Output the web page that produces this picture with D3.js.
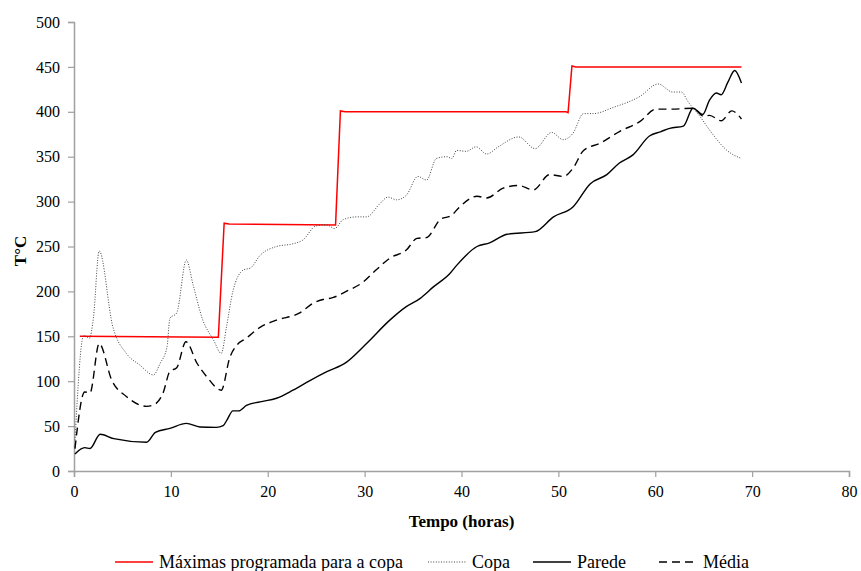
<!DOCTYPE html>
<html>
<head>
<meta charset="utf-8">
<script src="https://cdn.jsdelivr.net/npm/d3@7"></script>
<style>
  body { margin: 0; background: #fff; }
</style>
</head>
<body>
<svg id="chart" width="861" height="571"></svg>
<script>
// valores
var maxHoras = [0.6, 14.9, 15.5, 16.0, 27.0, 27.5, 28.0, 50.8, 51.0, 51.4, 51.8, 68.9];
var maxTemp = [150, 149, 276, 275, 274, 401, 400, 400, 399, 451, 450, 450];

var copaHoras = [0.1, 1.0, 1.6, 2.0, 2.6, 4.0, 5.4, 6.8, 8.2, 8.9, 9.6, 9.9, 10.6, 11.6, 12.3, 13.3, 14.4, 15.2, 15.75, 16.4, 17.5, 18.2, 19.2, 20.9, 22.6, 23.6, 25.0, 26.1, 26.9, 27.8, 29.2, 30.2, 31.6, 32.4, 33.3, 34.3, 35.5, 36.4, 37.4, 38.5, 39.0, 39.5, 40.5, 41.5, 42.6, 43.8, 45.9, 47.6, 49.3, 50.5, 51.5, 52.6, 53.6, 55.7, 58.4, 60.3, 61.8, 62.7, 63.4, 64.6, 66.0, 67.4, 68.9];
var copaTemp = [34, 151, 148, 170, 245, 161, 131, 118, 107, 120, 138, 170, 176, 235, 207, 168, 146, 131, 161, 200, 224, 226, 240, 250, 253, 257, 273, 274, 270, 280, 283, 283, 298, 305, 302, 307, 328, 324, 348, 350, 348, 357, 356, 361, 353, 361, 372, 359, 377, 369, 376, 398, 398, 405, 417, 431, 422, 422, 411, 395, 374, 357, 348];

var paredeHoras = [0.1, 1.1, 1.65, 2.7, 4.1, 7.5, 8.4, 9.9, 11.6, 13.0, 14.7, 15.4, 15.8, 16.4, 17.0, 17.8, 19.2, 20.9, 22.6, 24.4, 26.1, 28.1, 30.2, 32.6, 34.3, 35.7, 37.1, 38.8, 39.5, 41.6, 42.9, 44.7, 47.6, 49.5, 51.5, 53.3, 55.0, 56.3, 57.7, 59.4, 60.6, 61.5, 62.9, 63.9, 64.9, 65.6, 66.3, 66.8, 67.5, 68.2, 68.9];
var paredeTemp = [19, 26, 25, 41, 36, 32, 43, 47.5, 53, 49, 48.6, 50.5, 57, 67, 67, 73, 77, 81, 90, 101, 110.6, 121, 142, 168, 183, 192, 205, 220, 229, 250, 254, 263.6, 266.5, 283, 294, 320, 330, 343, 352, 373, 378, 381.6, 384, 404, 397, 413, 421, 419, 433, 446, 432];

var mediaHoras = [0.1, 1.1, 1.65, 2.6, 3.9, 5.4, 7.5, 8.2, 9.2, 9.9, 10.6, 11.56, 12.7, 13.7, 15.2, 16.1, 16.8, 17.8, 19.2, 20.9, 23.3, 24.7, 25.7, 26.7, 28.1, 29.8, 31.2, 32.6, 34.3, 35.4, 36.4, 37.8, 39.0, 39.8, 41.6, 42.6, 44.3, 45.9, 47.4, 49.1, 50.5, 51.5, 52.6, 54.3, 56.3, 58.4, 60.1, 61.8, 63.9, 65.0, 65.6, 66.8, 67.9, 68.9];
var mediaTemp = [25, 88, 87, 142, 101, 83, 72, 73.5, 87, 111, 115, 144, 120, 105, 90, 127, 140, 148, 160, 168, 176, 187, 191, 193, 200, 210, 224, 237, 246, 259, 260, 280, 285, 294, 306, 304, 315, 318, 313, 330, 328, 337, 357, 365, 378, 389, 403, 403, 404, 395, 396, 390, 401, 392];

var xTicks = [0, 10, 20, 30, 40, 50, 60, 70, 80];
var yTicks = [0, 50, 100, 150, 200, 250, 300, 350, 400, 450, 500];

var series = [
    { nome: "Máximas programada para a copa", h: maxHoras, t: maxTemp, cor: "#ff0000", dash: null, w: 1.5, curva: d3.curveLinear },
    { nome: "Copa", h: copaHoras, t: copaTemp, cor: "#444", dash: "1,1.6", w: 1, curva: d3.curveMonotoneX },
    { nome: "Parede", h: paredeHoras, t: paredeTemp, cor: "#000", dash: null, w: 1.4, curva: d3.curveMonotoneX },
    { nome: "Média", h: mediaHoras, t: mediaTemp, cor: "#000", dash: "8,5", w: 1.4, curva: d3.curveMonotoneX }
];

var fonte = "'Liberation Serif', 'Times New Roman', serif";
var svg = d3.select("#chart");

var x = d3.scaleLinear().domain([0, 80]).range([74, 849]);
var y = d3.scaleLinear().domain([0, 500]).range([471, 22]);

var axisColor = "#a0a0a0";

// eixo x
var gx = svg.append("g")
    .attr("transform", "translate(0," + y(0) + ")")
    .call(d3.axisBottom(x).tickValues(xTicks).tickSize(6).tickPadding(9));
// eixo y
var gy = svg.append("g")
    .attr("transform", "translate(" + x(0) + ",0)")
    .call(d3.axisLeft(y).tickValues(yTicks).tickSize(6).tickPadding(8));

[gx, gy].forEach(function (g) {
    g.attr("font-family", null);
    g.select(".domain").attr("stroke", axisColor).attr("stroke-width", 1.5);
    g.selectAll(".tick line").attr("stroke", axisColor).attr("stroke-width", 1.2);
    g.selectAll(".tick text")
        .attr("fill", "#000")
        .style("font-family", fonte)
        .style("font-size", "16px");
});

// linhas
series.forEach(function (s) {
    var pts = s.h.map(function (h, i) { return [h, s.t[i]]; });
    var line = d3.line()
        .x(function (d) { return x(d[0]); })
        .y(function (d) { return y(d[1]); })
        .curve(s.curva);
    svg.append("path")
        .datum(pts)
        .attr("d", line)
        .attr("fill", "none")
        .attr("stroke", s.cor)
        .attr("stroke-width", s.w)
        .attr("stroke-dasharray", s.dash);
});

// títulos dos eixos
svg.append("text")
    .attr("x", (x(0) + x(80)) / 2)
    .attr("y", 527)
    .attr("text-anchor", "middle")
    .style("font-family", fonte)
    .style("font-weight", "bold")
    .style("font-size", "17px")
    .text("Tempo (horas)");

svg.append("text")
    .attr("transform", "translate(26,251) rotate(-90)")
    .attr("text-anchor", "middle")
    .style("font-family", fonte)
    .style("font-weight", "bold")
    .style("font-size", "17px")
    .text("T°C");

// legenda
var legX = [115, 428, 533, 659];
var leg = svg.append("g");
series.forEach(function (s, i) {
    leg.append("line")
        .attr("x1", legX[i]).attr("x2", legX[i] + 38)
        .attr("y1", 562).attr("y2", 562)
        .attr("stroke", s.cor)
        .attr("stroke-width", s.w)
        .attr("stroke-dasharray", s.dash);
    leg.append("text")
        .attr("x", legX[i] + 44)
        .attr("y", 568)
        .style("font-family", fonte)
        .style("font-size", "18px")
        .text(s.nome);
});
</script>
</body>
</html>
